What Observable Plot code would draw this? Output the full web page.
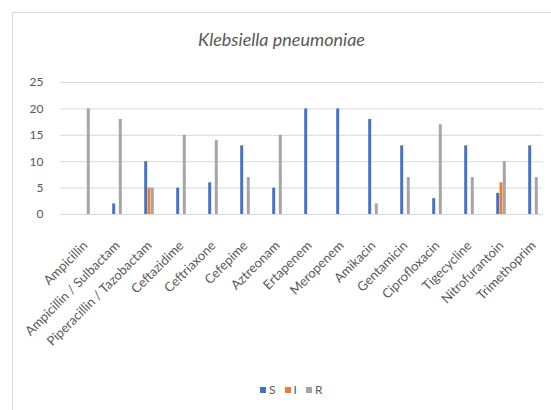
<!DOCTYPE html>
<html>
<head>
<meta charset="utf-8">
<script src="https://cdn.jsdelivr.net/npm/d3@7"></script>
<script src="https://cdn.jsdelivr.net/npm/@observablehq/plot@0.6"></script>
<style>
  html, body { margin: 0; padding: 0; background: #fff; }
  #wrap { position: relative; width: 551px; height: 410px; overflow: hidden; font-family: Lato, "Open Sans", sans-serif; }
  #frame { position: absolute; left: 12px; top: 12px; width: 560px; height: 420px; border-top: 1px solid #d9d9d9; border-left: 1px solid #d9d9d9; box-sizing: border-box; }
  #title { position: absolute; top: 28px; left: 12px; width: 539px; text-align: center; font-style: italic; font-size: 18px; color: #595959; }
  #chart { position: absolute; left: 0; top: 60px; }
  #legend { position: absolute; top: 383px; left: 260px; display: flex; align-items: center; font-size: 12px; color: #595959; line-height: 14px; }
  #legend .item { display: flex; align-items: center; margin-right: 9px; }
  #legend .sw { display: inline-block; width: 6px; height: 6px; margin-right: 3px; }
</style>
</head>
<body>
<div id="wrap">
  <div id="frame"></div>
  <div id="title">Klebsiella pneumoniae</div>
  <div id="chart"></div>
  <div id="legend"></div>
</div>
<script>
const drugs = ["Ampicillin", "Ampicillin / Sulbactam", "Piperacillin / Tazobactam", "Ceftazidime", "Ceftriaxone", "Cefepime", "Aztreonam", "Ertapenem", "Meropenem", "Amikacin", "Gentamicin", "Ciprofloxacin", "Tigecycline", "Nitrofurantoin", "Trimethoprim"];
const seriesNames = ["S", "I", "R"];
const sValues = [0, 2, 10, 5, 6, 13, 5, 20, 20, 18, 13, 3, 13, 4, 13];
const iValues = [0, 0, 5, 0, 0, 0, 0, 0, 0, 0, 0, 0, 0, 6, 0];
const rValues = [20, 18, 5, 15, 14, 7, 15, 0, 0, 2, 7, 17, 7, 10, 7];
const yTicks = [0, 5, 10, 15, 20, 25];
const colors = ["#4472C4", "#ED7D31", "#A5A5A5"];

const valuesBySeries = {S: sValues, I: iValues, R: rValues};
const rows = [];
seriesNames.forEach(s => drugs.forEach((d, i) => rows.push({drug: d, series: s, value: valuesBySeries[s][i]})));

const xRange = [66, 551];
const barW = 3.3;
const step = (xRange[1] - xRange[0]) / drugs.length;
const inset = (step - barW) / 2;
const offsets = {S: -barW, I: 0, R: barW};

const barMarks = seriesNames.map((s, k) => Plot.barY(rows.filter(r => r.series === s), {
  x: "drug", y: "value", fill: colors[k], insetLeft: inset, insetRight: inset, dx: offsets[s]
}));

const chart = Plot.plot({
  width: 551,
  height: 300,
  marginTop: 22,
  marginBottom: 146,
  marginLeft: 60,
  marginRight: 8,
  style: {fontFamily: "Lato, 'Open Sans', sans-serif", fontSize: "12px", color: "#595959", background: "transparent"},
  x: {domain: drugs, range: xRange, padding: 0},
  y: {domain: [0, 25]},
  marks: [
    Plot.ruleY(yTicks, {stroke: "#d9d9d9", strokeWidth: 1}),
    ...barMarks,
    Plot.axisY({ticks: yTicks, tickSize: 0, tickPadding: 17, label: null, fontSize: 12}),
    Plot.axisX({tickSize: 0, tickPadding: 29, tickRotate: -45, label: null, fontSize: 13})
  ]
});
document.getElementById("chart").appendChild(chart);

const legendDiv = document.getElementById("legend");
seriesNames.forEach((s, k) => {
  const item = document.createElement("span");
  item.className = "item";
  const sw = document.createElement("span");
  sw.className = "sw";
  sw.style.background = colors[k];
  item.appendChild(sw);
  item.appendChild(document.createTextNode(s));
  legendDiv.appendChild(item);
});
</script>
</body>
</html>
